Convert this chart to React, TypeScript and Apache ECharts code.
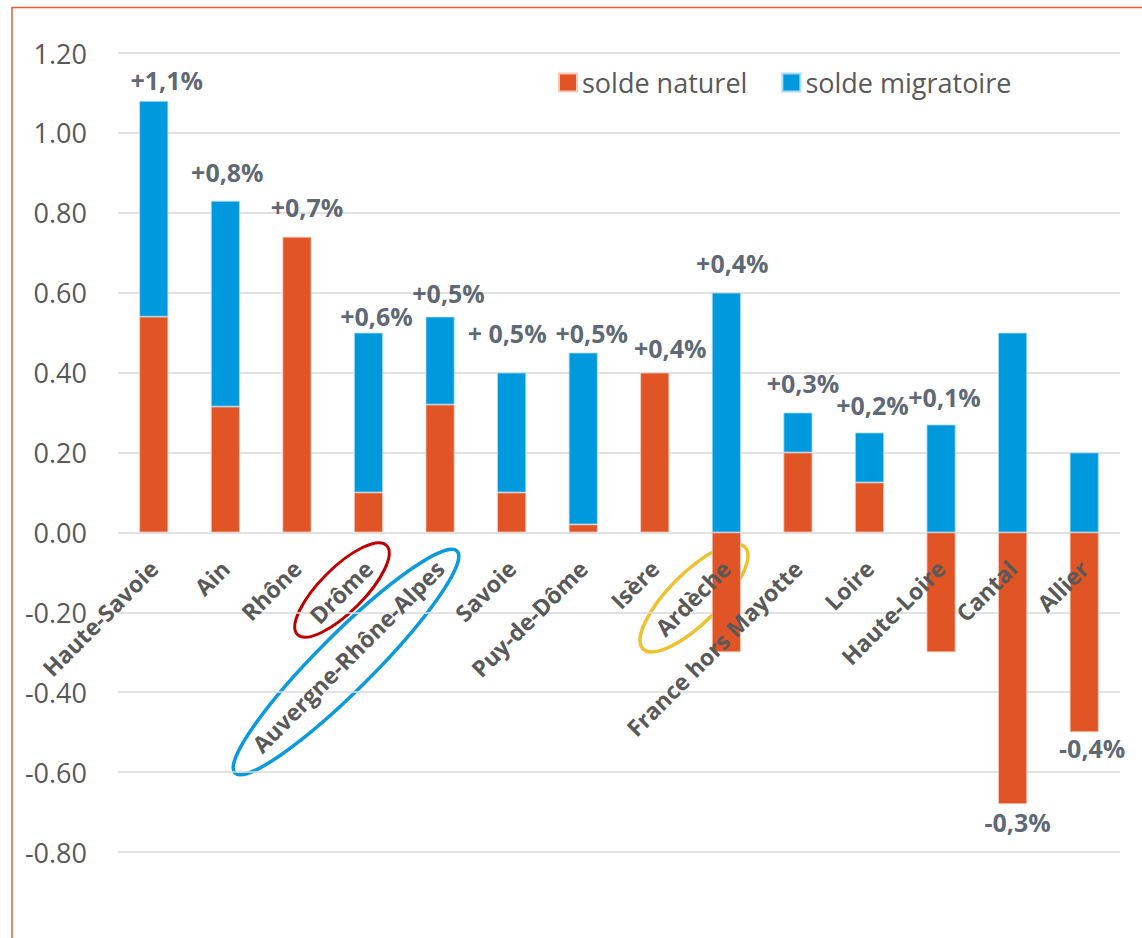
import React, { useEffect, useRef } from "react";
import * as echarts from "echarts";

const categories = [
  "Haute-Savoie",
  "Ain",
  "Rhône",
  "Drôme",
  "Auvergne-Rhône-Alpes",
  "Savoie",
  "Puy-de-Dôme",
  "Isère",
  "Ardèche",
  "France hors Mayotte",
  "Loire",
  "Haute-Loire",
  "Cantal",
  "Allier",
];
const soldeNaturel = [0.54, 0.315, 0.74, 0.1, 0.32, 0.1, 0.02, 0.4, -0.3, 0.2, 0.125, -0.3, -0.68, -0.5];
const soldeMigratoire = [0.54, 0.515, 0, 0.4, 0.22, 0.3, 0.43, 0, 0.6, 0.1, 0.125, 0.27, 0.5, 0.2];
const evolutionLabels = [
  "+1,1%", "+0,8%", "+0,7%", "+0,6%", "+0,5%", "+ 0,5%", "+0,5%",
  "+0,4%", "+0,4%", "+0,3%", "+0,2%", "+0,1%", "-0,3%", "-0,4%",
];
const yMin = -0.8;
const yMax = 1.2;
const yStep = 0.2;

// label nudges (style only)
const labelShift = [
  [13, -21], [2, -29], [10, -30], [8, -17], [8.5, -23.5], [-4.5, -40], [8.5, -20],
  [15.5, -25], [6, -30], [5, -30], [3, -28], [3.5, -28], [5, 18], [8, 16],
];

const ORANGE = "#E15426";
const BLUE = "#0199DD";

const GRID_TOP = 53;
const GRID_BOTTOM = 86;
const CHART_H = 938;

export default function App() {
  const ref = useRef<HTMLDivElement>(null);
  useEffect(() => {
    if (!ref.current) return;
    const chart = echarts.init(ref.current, null, { renderer: "svg" });

    const anchors = categories.map((_, i) => {
      const neg = evolutionLabels[i].startsWith("-");
      if (neg) {
        return Math.min(soldeNaturel[i], 0) + Math.min(soldeMigratoire[i], 0);
      }
      return Math.max(soldeNaturel[i], 0) + Math.max(soldeMigratoire[i], 0);
    });

    const labelData = categories.map((c, i) => ({
      value: [i, anchors[i]],
      label: {
        show: true,
        position: "inside",
        offset: labelShift[i],
        formatter: evolutionLabels[i],
      },
    }));

    // pixel of the zero line, so the category labels can hang from it
    const plotH = CHART_H - GRID_TOP - GRID_BOTTOM;
    const zeroY = GRID_TOP + (plotH * yMax) / (yMax - yMin);

    chart.setOption({
      animation: false,
      backgroundColor: "#ffffff",
      grid: [
        {
          left: 118,
          right: 22,
          top: GRID_TOP,
          bottom: GRID_BOTTOM,
          containLabel: false,
          outerBoundsMode: "none",
        },
        {
          left: 118,
          right: 22,
          top: GRID_TOP,
          bottom: CHART_H - zeroY,
          containLabel: false,
          outerBoundsMode: "none",
        },
      ],
      legend: {
        left: 553,
        top: 64,
        itemWidth: 18,
        itemHeight: 18,
        itemGap: 34,
        icon: "rect",
        data: ["solde naturel", "solde migratoire"],
        textStyle: { fontFamily: "Open Sans", fontSize: 27, color: "#595959" },
      },
      xAxis: [
        {
          type: "category",
          gridIndex: 0,
          data: categories,
          axisLine: { show: false },
          axisTick: { show: false },
          axisLabel: { show: false },
        },
        {
          type: "category",
          gridIndex: 1,
          data: categories,
          z: 10,
          axisLine: { show: false },
          axisTick: { show: false },
          axisLabel: {
            rotate: 45,
            interval: 0,
            margin: 32,
            fontFamily: "Open Sans",
            fontWeight: "bold",
            fontSize: 23,
            color: "#595959",
          },
        },
      ],
      yAxis: [
        {
          type: "value",
          gridIndex: 0,
          min: yMin,
          max: yMax,
          interval: yStep,
          axisLine: { show: false },
          axisTick: { show: false },
          splitLine: { lineStyle: { color: "#D9D9D9", width: 1.5 } },
          axisLabel: {
            margin: 31,
            fontFamily: "Open Sans",
            fontSize: 27,
            color: "#595959",
            formatter: (v: number) => v.toFixed(2),
          },
        },
        {
          type: "value",
          gridIndex: 1,
          min: 0,
          max: yMax,
          show: false,
        },
      ],
      series: [
        {
          name: "solde naturel",
          type: "bar",
          stack: "total",
          barWidth: 29,
          data: soldeNaturel.map((v) => (v === 0 ? null : v)),
          itemStyle: { color: ORANGE, borderColor: "#F4C9B8", borderWidth: 0.8 },
          z: 3,
        },
        {
          name: "solde migratoire",
          type: "bar",
          stack: "total",
          barWidth: 29,
          data: soldeMigratoire.map((v) => (v === 0 ? null : v)),
          itemStyle: { color: BLUE, borderColor: "#A9DCF3", borderWidth: 0.8 },
          z: 3,
        },
        {
          name: "evolution",
          type: "scatter",
          symbolSize: 0,
          data: labelData,
          silent: true,
          label: {
            show: true,
            fontFamily: "Open Sans",
            fontWeight: "bold",
            fontSize: 25,
            color: "#333F50",
          },
          z: 5,
        },
      ],
      graphic: [
        {
          type: "rect",
          shape: { x: 12, y: 7.5, width: 1200, height: 1000 },
          style: { fill: "none", stroke: "#E4602F", lineWidth: 1.5 },
          silent: true,
        },
        {
          type: "ellipse",
          x: 342,
          y: 590,
          rotation: Math.PI / 4,
          shape: { cx: 0, cy: 0, rx: 63, ry: 22 },
          style: { fill: "none", stroke: "#C00000", lineWidth: 3 },
          silent: true,
        },
        {
          type: "ellipse",
          x: 346,
          y: 662,
          rotation: Math.PI / 4,
          shape: { cx: 0, cy: 0, rx: 157, ry: 28 },
          style: { fill: "none", stroke: "#0B9BDC", lineWidth: 3.5 },
          silent: true,
        },
        {
          type: "ellipse",
          x: 694,
          y: 598,
          rotation: Math.PI / 4,
          shape: { cx: 0, cy: 0, rx: 72, ry: 25 },
          style: { fill: "none", stroke: "#EEC22E", lineWidth: 3.5 },
          silent: true,
        },
      ],
    });
    return () => chart.dispose();
  }, []);
  return (
    <div
      ref={ref}
      style={{ position: "absolute", left: 0, top: 0, width: 1142, height: 938 }}
    />
  );
}
